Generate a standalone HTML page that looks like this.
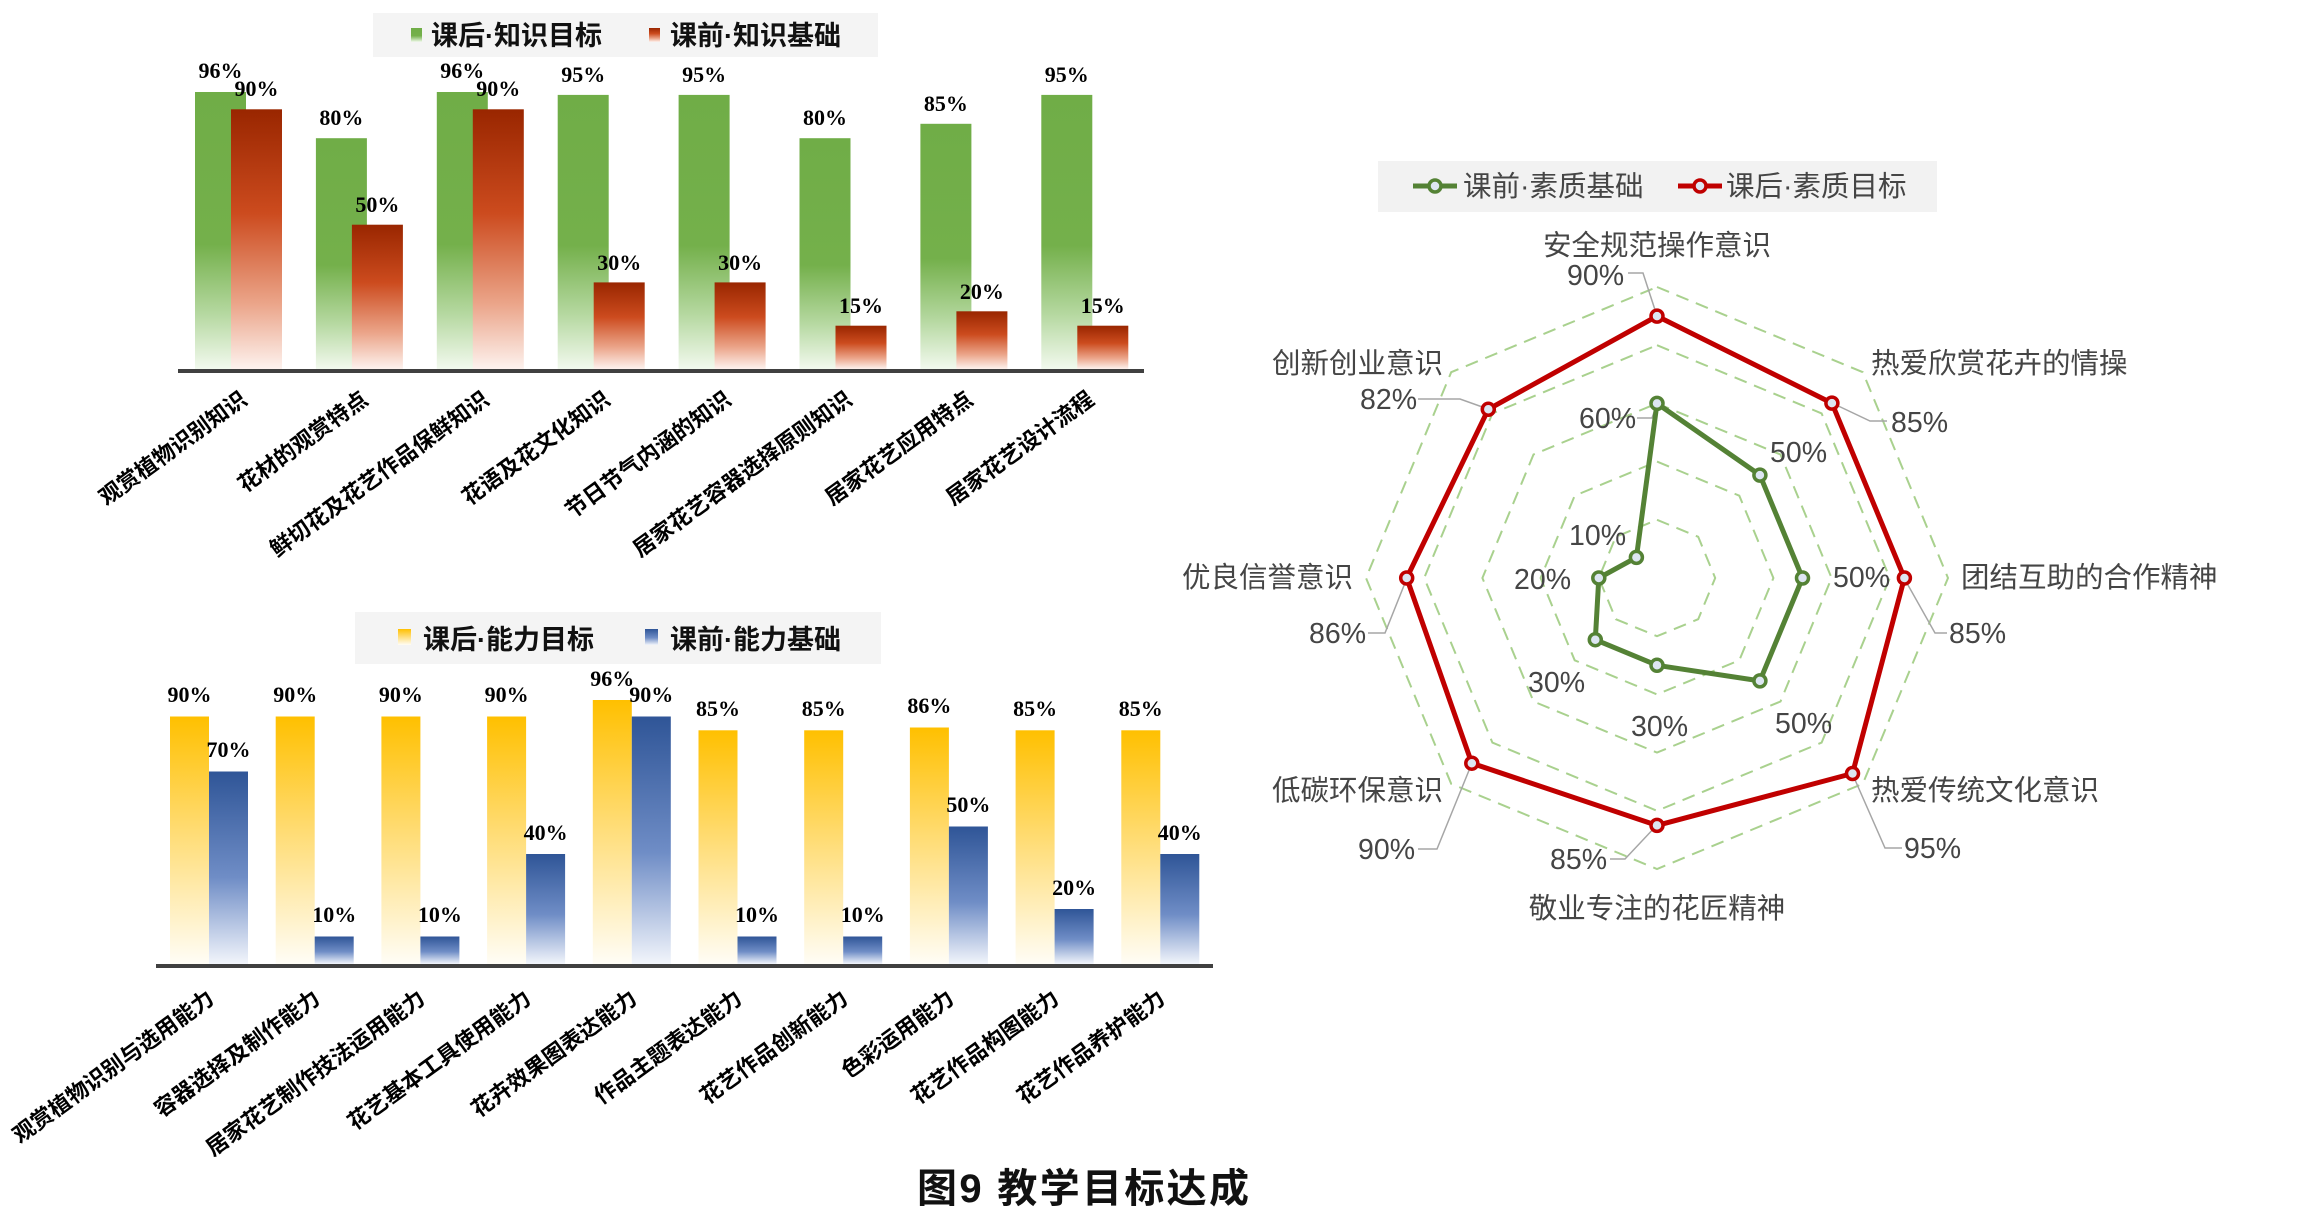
<!DOCTYPE html>
<html><head><meta charset="utf-8"><style>
html,body{margin:0;padding:0;background:#fff;}
svg{display:block;}
.v{font-family:"Liberation Serif",serif;font-weight:bold;font-size:22px;fill:#000;text-anchor:middle;}
.c{font-family:"Liberation Sans","Noto Sans CJK SC",sans-serif;font-weight:bold;font-size:22px;fill:#000;text-anchor:end;}
.lg{font-family:"Liberation Sans","Noto Sans CJK SC",sans-serif;font-weight:bold;font-size:27px;fill:#111;}
.r{font-family:"Liberation Sans","Noto Sans CJK SC",sans-serif;font-size:28.5px;fill:#454545;}
.rm{text-anchor:middle;}
</style></head><body>
<svg width="2324" height="1229" viewBox="0 0 2324 1229" xmlns="http://www.w3.org/2000/svg">
<defs>
<linearGradient id="g" x1="0" y1="0" x2="0" y2="1"><stop offset="0" stop-color="#70AD47"/><stop offset="0.55" stop-color="#74B04B"/><stop offset="0.8" stop-color="#B5D8A0"/><stop offset="1" stop-color="#F2F9EE"/></linearGradient>
<linearGradient id="rd" x1="0" y1="0" x2="0" y2="1"><stop offset="0" stop-color="#992600"/><stop offset="0.4" stop-color="#CC4B1E"/><stop offset="0.75" stop-color="#EBA58A"/><stop offset="1" stop-color="#FDF2EE"/></linearGradient>
<linearGradient id="y" x1="0" y1="0" x2="0" y2="1"><stop offset="0" stop-color="#FFC000"/><stop offset="0.45" stop-color="#FFDB70"/><stop offset="1" stop-color="#FFFDF6"/></linearGradient>
<linearGradient id="b" x1="0" y1="0" x2="0" y2="1"><stop offset="0" stop-color="#2F5597"/><stop offset="0.55" stop-color="#6F8DC6"/><stop offset="1" stop-color="#F2F5FB"/></linearGradient>
</defs>

<!-- TOP CHART -->
<rect x="373" y="13" width="505" height="44" fill="#f4f4f4"/>
<rect x="411" y="28" width="11" height="14" fill="url(#g)"/>
<text class="lg" x="431" y="45">课后·知识目标</text>
<rect x="649" y="28" width="11" height="14" fill="url(#rd)"/>
<text class="lg" x="670" y="45">课前·知识基础</text>

<g>
<rect x="195" y="92" width="51" height="277" fill="url(#g)"/>
<rect x="315.9" y="138.2" width="51" height="230.8" fill="url(#g)"/>
<rect x="436.8" y="92" width="51" height="277" fill="url(#g)"/>
<rect x="557.7" y="94.9" width="51" height="274.1" fill="url(#g)"/>
<rect x="678.6" y="94.9" width="51" height="274.1" fill="url(#g)"/>
<rect x="799.5" y="138.2" width="51" height="230.8" fill="url(#g)"/>
<rect x="920.4" y="123.8" width="51" height="245.2" fill="url(#g)"/>
<rect x="1041.3" y="94.9" width="51" height="274.1" fill="url(#g)"/>

<rect x="231" y="109.3" width="51" height="259.7" fill="url(#rd)"/>
<rect x="351.9" y="224.7" width="51" height="144.3" fill="url(#rd)"/>
<rect x="472.8" y="109.3" width="51" height="259.7" fill="url(#rd)"/>
<rect x="593.7" y="282.4" width="51" height="86.6" fill="url(#rd)"/>
<rect x="714.6" y="282.4" width="51" height="86.6" fill="url(#rd)"/>
<rect x="835.5" y="325.7" width="51" height="43.3" fill="url(#rd)"/>
<rect x="956.4" y="311.3" width="51" height="57.7" fill="url(#rd)"/>
<rect x="1077.3" y="325.7" width="51" height="43.3" fill="url(#rd)"/>
</g>
<line x1="178" y1="371" x2="1144" y2="371" stroke="#404040" stroke-width="4"/>
<g>
<text class="v" x="220.5" y="78">96%</text>
<text class="v" x="341.4" y="125">80%</text>
<text class="v" x="462.3" y="78">96%</text>
<text class="v" x="583.2" y="82">95%</text>
<text class="v" x="704.1" y="82">95%</text>
<text class="v" x="825" y="125">80%</text>
<text class="v" x="945.9" y="111">85%</text>
<text class="v" x="1066.8" y="82">95%</text>
<text class="v" x="256.5" y="96">90%</text>
<text class="v" x="377.4" y="212">50%</text>
<text class="v" x="498.3" y="96">90%</text>
<text class="v" x="619.2" y="270">30%</text>
<text class="v" x="740.1" y="270">30%</text>
<text class="v" x="861" y="313">15%</text>
<text class="v" x="981.9" y="299">20%</text>
<text class="v" x="1102.8" y="313">15%</text>
</g>
<g>
<text class="c" transform="translate(238,388) rotate(-36)" y="18">观赏植物识别知识</text>
<text class="c" transform="translate(359,388) rotate(-36)" y="18">花材的观赏特点</text>
<text class="c" transform="translate(480,388) rotate(-36)" y="18">鲜切花及花艺作品保鲜知识</text>
<text class="c" transform="translate(601,388) rotate(-36)" y="18">花语及花文化知识</text>
<text class="c" transform="translate(722,388) rotate(-36)" y="18">节日节气内涵的知识</text>
<text class="c" transform="translate(843,388) rotate(-36)" y="18">居家花艺容器选择原则知识</text>
<text class="c" transform="translate(964,388) rotate(-36)" y="18">居家花艺应用特点</text>
<text class="c" transform="translate(1085,388) rotate(-36)" y="18">居家花艺设计流程</text>
</g>

<!-- BOTTOM CHART -->
<rect x="355" y="612" width="526" height="52" fill="#f4f4f4"/>
<rect x="398" y="629" width="13" height="16" fill="url(#y)"/>
<text class="lg" x="423" y="649">课后·能力目标</text>
<rect x="645" y="629" width="13" height="16" fill="url(#b)"/>
<text class="lg" x="670" y="649">课前·能力基础</text>
<g>
<rect x="170" y="716.5" width="39" height="247.5" fill="url(#y)"/>
<rect x="275.7" y="716.5" width="39" height="247.5" fill="url(#y)"/>
<rect x="381.4" y="716.5" width="39" height="247.5" fill="url(#y)"/>
<rect x="487.1" y="716.5" width="39" height="247.5" fill="url(#y)"/>
<rect x="592.8" y="700" width="39" height="264" fill="url(#y)"/>
<rect x="698.5" y="730.3" width="39" height="233.7" fill="url(#y)"/>
<rect x="804.2" y="730.3" width="39" height="233.7" fill="url(#y)"/>
<rect x="909.9" y="727.5" width="39" height="236.5" fill="url(#y)"/>
<rect x="1015.6" y="730.3" width="39" height="233.7" fill="url(#y)"/>
<rect x="1121.3" y="730.3" width="39" height="233.7" fill="url(#y)"/>

<rect x="209" y="771.5" width="39" height="192.5" fill="url(#b)"/>
<rect x="314.7" y="936.5" width="39" height="27.5" fill="url(#b)"/>
<rect x="420.4" y="936.5" width="39" height="27.5" fill="url(#b)"/>
<rect x="526.1" y="854" width="39" height="110" fill="url(#b)"/>
<rect x="631.8" y="716.5" width="39" height="247.5" fill="url(#b)"/>
<rect x="737.5" y="936.5" width="39" height="27.5" fill="url(#b)"/>
<rect x="843.2" y="936.5" width="39" height="27.5" fill="url(#b)"/>
<rect x="948.9" y="826.5" width="39" height="137.5" fill="url(#b)"/>
<rect x="1054.6" y="909" width="39" height="55" fill="url(#b)"/>
<rect x="1160.3" y="854" width="39" height="110" fill="url(#b)"/>
</g>
<line x1="156" y1="966" x2="1213" y2="966" stroke="#404040" stroke-width="4"/>
<g>
<text class="v" x="189.5" y="702">90%</text>
<text class="v" x="295.2" y="702">90%</text>
<text class="v" x="400.9" y="702">90%</text>
<text class="v" x="506.6" y="702">90%</text>
<text class="v" x="612.3" y="686">96%</text>
<text class="v" x="718" y="716">85%</text>
<text class="v" x="823.7" y="716">85%</text>
<text class="v" x="929.4" y="713">86%</text>
<text class="v" x="1035.1" y="716">85%</text>
<text class="v" x="1140.8" y="716">85%</text>
<text class="v" x="228.5" y="757">70%</text>
<text class="v" x="334.2" y="922">10%</text>
<text class="v" x="439.9" y="922">10%</text>
<text class="v" x="545.6" y="840">40%</text>
<text class="v" x="651.3" y="702">90%</text>
<text class="v" x="757" y="922">10%</text>
<text class="v" x="862.7" y="922">10%</text>
<text class="v" x="968.4" y="812">50%</text>
<text class="v" x="1074.1" y="895">20%</text>
<text class="v" x="1179.8" y="840">40%</text>
</g>
<g>
<text class="c" transform="translate(205,987) rotate(-36)" y="18">观赏植物识别与选用能力</text>
<text class="c" transform="translate(311,987) rotate(-36)" y="18">容器选择及制作能力</text>
<text class="c" transform="translate(416,987) rotate(-36)" y="18">居家花艺制作技法运用能力</text>
<text class="c" transform="translate(522,987) rotate(-36)" y="18">花艺基本工具使用能力</text>
<text class="c" transform="translate(628,987) rotate(-36)" y="18">花卉效果图表达能力</text>
<text class="c" transform="translate(733,987) rotate(-36)" y="18">作品主题表达能力</text>
<text class="c" transform="translate(839,987) rotate(-36)" y="18">花艺作品创新能力</text>
<text class="c" transform="translate(945,987) rotate(-36)" y="18">色彩运用能力</text>
<text class="c" transform="translate(1050,987) rotate(-36)" y="18">花艺作品构图能力</text>
<text class="c" transform="translate(1156,987) rotate(-36)" y="18">花艺作品养护能力</text>
</g>

<text x="917" y="1202" font-family="Liberation Sans,'Noto Sans CJK SC',sans-serif" font-weight="bold" font-size="40" fill="#111" textLength="332">图9  教学目标达成</text>

<!-- RADAR -->
<rect x="1378" y="161" width="559" height="51" fill="#f2f2f2"/>
<line x1="1413" y1="186" x2="1457" y2="186" stroke="#548235" stroke-width="5"/>
<circle cx="1435" cy="186" r="6" fill="#dde6f2" stroke="#548235" stroke-width="3.5"/>
<text class="r" x="1463" y="196">课前·素质基础</text>
<line x1="1678" y1="186" x2="1722" y2="186" stroke="#C00000" stroke-width="5"/>
<circle cx="1700" cy="186" r="6" fill="#dde6f2" stroke="#C00000" stroke-width="3.5"/>
<text class="r" x="1726" y="196">课后·素质目标</text>

<g fill="none" stroke="#A9D18E" stroke-width="2" stroke-dasharray="13,8">
<polygon points="1657,519.8 1698.2,536.8 1715.2,578 1698.2,619.2 1657,636.2 1615.8,619.2 1598.8,578 1615.8,536.8"/>
<polygon points="1657,461.6 1739.3,495.7 1773.4,578 1739.3,660.3 1657,694.4 1574.7,660.3 1540.6,578 1574.7,495.7"/>
<polygon points="1657,403.4 1780.5,454.5 1831.6,578 1780.5,701.5 1657,752.6 1533.5,701.5 1482.4,578 1533.5,454.5"/>
<polygon points="1657,345.2 1821.6,413.4 1889.8,578 1821.6,742.6 1657,810.8 1492.4,742.6 1424.2,578 1492.4,413.4"/>
<polygon points="1657,287 1862.8,372.2 1948,578 1862.8,783.8 1657,869 1451.2,783.8 1366,578 1451.2,372.2"/>
</g>
<g fill="none" stroke="#a6a6a6" stroke-width="1.5">
<polyline points="1628,273 1643,273 1657,316"/>
<polyline points="1832,403 1870,421 1887,421"/>
<polyline points="1904,578 1935,633 1947,633"/>
<polyline points="1852,773 1885,848 1902,848"/>
<polyline points="1657,825 1625,859 1610,859"/>
<polyline points="1472,763 1437,849 1418,849"/>
<polyline points="1407,578 1385,633 1368,633"/>
<polyline points="1418,399 1460,399 1488,409"/>
<polyline points="1637,418 1652,418 1657,404"/>
</g>
<polygon points="1657,316.1 1831.9,403.1 1904.4,578 1852.5,773.5 1657,825.4 1471.8,763.2 1406.7,578 1488.3,409.3" fill="none" stroke="#C00000" stroke-width="5" stroke-linejoin="round"/>
<polygon points="1657,403.4 1759.9,475.1 1802.5,578 1759.9,680.9 1657,665.3 1595.3,639.7 1598.8,578 1636.4,557.4" fill="none" stroke="#548235" stroke-width="5" stroke-linejoin="round"/>
<g fill="#dde6f2" stroke="#C00000" stroke-width="3.5">
<circle cx="1657" cy="316.1" r="6"/><circle cx="1831.9" cy="403.1" r="6"/><circle cx="1904.4" cy="578" r="6"/><circle cx="1852.5" cy="773.5" r="6"/><circle cx="1657" cy="825.4" r="6"/><circle cx="1471.8" cy="763.2" r="6"/><circle cx="1406.7" cy="578" r="6"/><circle cx="1488.3" cy="409.3" r="6"/>
</g>
<g fill="#dde6f2" stroke="#548235" stroke-width="3.5">
<circle cx="1657" cy="403.4" r="6"/><circle cx="1759.9" cy="475.1" r="6"/><circle cx="1802.5" cy="578" r="6"/><circle cx="1759.9" cy="680.9" r="6"/><circle cx="1657" cy="665.3" r="6"/><circle cx="1595.3" cy="639.7" r="6"/><circle cx="1598.8" cy="578" r="6"/><circle cx="1636.4" cy="557.4" r="6"/>
</g>
<g>
<text class="r rm" x="1657" y="255">安全规范操作意识</text>
<text class="r" x="1871" y="373">热爱欣赏花卉的情操</text>
<text class="r" x="1961" y="587">团结互助的合作精神</text>
<text class="r" x="1871" y="800">热爱传统文化意识</text>
<text class="r rm" x="1657" y="918">敬业专注的花匠精神</text>
<text class="r" x="1272" y="800">低碳环保意识</text>
<text class="r" x="1182" y="587">优良信誉意识</text>
<text class="r" x="1272" y="373">创新创业意识</text>

<text class="r" x="1567" y="285">90%</text>
<text class="r" x="1891" y="432">85%</text>
<text class="r" x="1949" y="643">85%</text>
<text class="r" x="1904" y="858">95%</text>
<text class="r" x="1550" y="869">85%</text>
<text class="r" x="1358" y="859">90%</text>
<text class="r" x="1309" y="643">86%</text>
<text class="r" x="1360" y="409">82%</text>

<text class="r" x="1579" y="428">60%</text>
<text class="r" x="1770" y="462">50%</text>
<text class="r" x="1833" y="587">50%</text>
<text class="r" x="1775" y="733">50%</text>
<text class="r" x="1631" y="736">30%</text>
<text class="r" x="1528" y="692">30%</text>
<text class="r" x="1514" y="589">20%</text>
<text class="r" x="1569" y="545">10%</text>
</g>
</svg>
</body></html>
